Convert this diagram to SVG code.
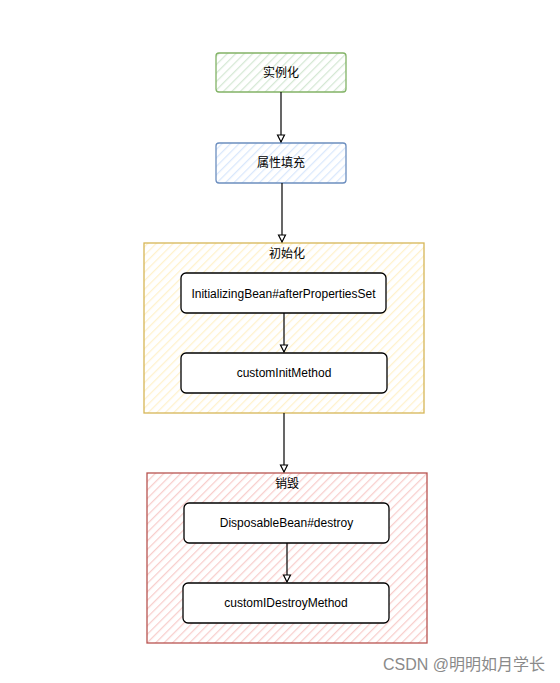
<svg xmlns="http://www.w3.org/2000/svg" width="560" height="683" viewBox="0 0 560 683">
<style>
text{font-family:"Liberation Sans","Noto Sans CJK SC",sans-serif;font-size:12px;fill:#000;text-anchor:middle;dominant-baseline:central}
.edge{stroke:#000;stroke-width:1.2;fill:none}
.inner{fill:#fff;stroke:#000;stroke-width:1.3}
.wm{fill:#8a8a8a;font-size:16px;text-anchor:start}
</style>
<defs>
<pattern id="hg" width="6" height="6" patternUnits="userSpaceOnUse" patternTransform="rotate(45)"><rect width="6" height="6" fill="#fff"/><line x1="0" y1="0" x2="0" y2="6" stroke="#d5e8d4" stroke-width="2.5"/></pattern>
<pattern id="hb" width="6" height="6" patternUnits="userSpaceOnUse" patternTransform="rotate(45)"><rect width="6" height="6" fill="#fff"/><line x1="0" y1="0" x2="0" y2="6" stroke="#dae8fc" stroke-width="2.5"/></pattern>
<pattern id="hy" width="6" height="6" patternUnits="userSpaceOnUse" patternTransform="rotate(45)"><rect width="6" height="6" fill="#fff"/><line x1="0" y1="0" x2="0" y2="6" stroke="#fff2cc" stroke-width="2.5"/></pattern>
<pattern id="hr" width="6" height="6" patternUnits="userSpaceOnUse" patternTransform="rotate(45)"><rect width="6" height="6" fill="#fff"/><line x1="0" y1="0" x2="0" y2="6" stroke="#f8cecc" stroke-width="2.5"/></pattern>
<marker id="arr" markerWidth="10" markerHeight="10" refX="8" refY="5" orient="auto" markerUnits="userSpaceOnUse"><path d="M1,1.5 L8,5 L1,8.5 Z" fill="#fff" stroke="#000" stroke-width="1.2"/></marker>
</defs>
<g id="containers">
<g id="init">
<rect x="144" y="243" width="280" height="170" fill="url(#hy)" stroke="#d6b656" stroke-width="1.3"/>
<text x="287" y="254">初始化</text>
</g>
<g id="destroy">
<rect x="147" y="473" width="280" height="170" fill="url(#hr)" stroke="#b85450" stroke-width="1.3"/>
<text x="287" y="484">销毁</text>
</g>
</g>
<g id="n1"><rect x="216" y="53" width="130" height="39" rx="3" fill="url(#hg)" stroke="#82b366" stroke-width="1.3"/><text x="281" y="73">实例化</text></g>
<g id="n2"><rect x="216" y="143" width="130" height="40" rx="3" fill="url(#hb)" stroke="#6c8ebf" stroke-width="1.3"/><text x="281" y="163">属性填充</text></g>
<g id="n3"><rect x="181" y="273" width="205" height="40" rx="5" class="inner"/><text x="283.5" y="294">InitializingBean#afterPropertiesSet</text></g>
<g id="n4"><rect x="181" y="353" width="206" height="40" rx="5" class="inner"/><text x="284" y="373">customInitMethod</text></g>
<g id="n5"><rect x="184" y="503" width="205" height="40" rx="5" class="inner"/><text x="286.5" y="523">DisposableBean#destroy</text></g>
<g id="n6"><rect x="183" y="583" width="206" height="40" rx="5" class="inner"/><text x="286" y="603">customIDestroyMethod</text></g>
<g id="connectors">
<line class="edge" x1="281" y1="92" x2="281" y2="142" marker-end="url(#arr)"/>
<line class="edge" x1="282" y1="183" x2="282" y2="242" marker-end="url(#arr)"/>
<line class="edge" x1="284" y1="313" x2="284" y2="352" marker-end="url(#arr)"/>
<line class="edge" x1="284" y1="413" x2="284" y2="472" marker-end="url(#arr)"/>
<line class="edge" x1="287" y1="543" x2="287" y2="582" marker-end="url(#arr)"/>
</g>
<text class="wm" x="383" y="664">CSDN @明明如月学长</text>
</svg>
